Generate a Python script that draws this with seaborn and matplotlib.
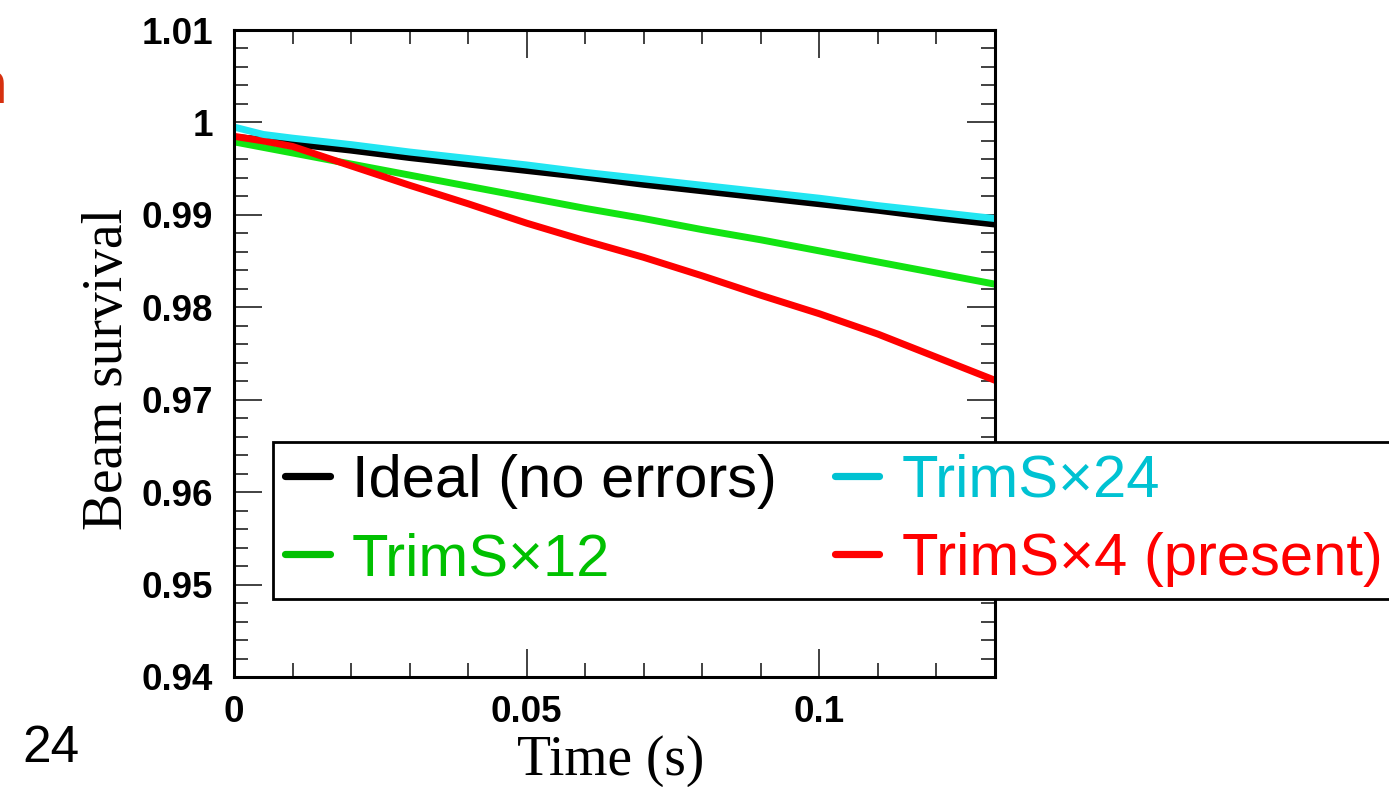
import numpy as np
import pandas as pd
import matplotlib
matplotlib.use("Agg")
import matplotlib.pyplot as plt
from matplotlib.lines import Line2D
from matplotlib.ticker import MultipleLocator
import seaborn as sns

# Beam survival vs. time for different trim-sextupole configurations
time_s = [0.0, 0.005, 0.01, 0.02, 0.03, 0.04, 0.05, 0.06, 0.07, 0.08, 0.09, 0.10, 0.11, 0.12, 0.13]
ideal = [0.9984, 0.9981, 0.9977, 0.9970, 0.9962, 0.9955, 0.9948, 0.9941, 0.9933, 0.9926, 0.9919, 0.9912, 0.9905, 0.9897, 0.9890]
trim24 = [0.9995, 0.9987, 0.9983, 0.9976, 0.9968, 0.9961, 0.9954, 0.9946, 0.9939, 0.9932, 0.9925, 0.9918, 0.9910, 0.9903, 0.9896]
trim12 = [0.9979, 0.9973, 0.9967, 0.9955, 0.9943, 0.9931, 0.9919, 0.9907, 0.9896, 0.9884, 0.9873, 0.9861, 0.9849, 0.9837, 0.9825]
trim4 = [0.9985, 0.9980, 0.9974, 0.9953, 0.9932, 0.9912, 0.9891, 0.9872, 0.9854, 0.9834, 0.9813, 0.9793, 0.9771, 0.9746, 0.9721]

series_names = ["Ideal (no errors)", "TrimS\u00d712", "TrimS\u00d724", "TrimS\u00d74 (present)"]
series_values = [ideal, trim12, trim24, trim4]
line_colors = ["#000000", "#12E412", "#22E6F2", "#FF0000"]
legend_colors = ["#000000", "#00C000", "#00C2D2", "#FF0000"]
draw_order = [0, 1, 3, 2]  # cyan drawn last so it sits on top of black

y_ticks = [0.94, 0.95, 0.96, 0.97, 0.98, 0.99, 1.00, 1.01]
y_tick_labels = ["0.94", "0.95", "0.96", "0.97", "0.98", "0.99", "1", "1.01"]
x_ticks = [0.0, 0.05, 0.1]
x_tick_labels = ["0", "0.05", "0.1"]

df = pd.concat(
    [pd.DataFrame({"Time (s)": time_s, "Beam survival": series_values[i], "case": series_names[i]})
     for i in draw_order],
    ignore_index=True,
)

sns.set_theme(style="ticks")
W, H = 1389, 787
fig = plt.figure(figsize=(W / 100, H / 100), dpi=100)
fig.patch.set_facecolor("white")
ax = fig.add_axes([234 / W, 1 - 677 / H, 761 / W, 647 / H])

sns.lineplot(
    data=df, x="Time (s)", y="Beam survival", hue="case",
    hue_order=[series_names[i] for i in draw_order],
    palette=[line_colors[i] for i in draw_order],
    linewidth=5.0, legend=False, ax=ax, sort=False,
)

ax.set_xlim(0, 0.13)
ax.set_ylim(0.94, 1.01)
ax.set_xticks(x_ticks)
ax.set_xticklabels(x_tick_labels)
ax.set_yticks(y_ticks)
ax.set_yticklabels(y_tick_labels)
ax.xaxis.set_minor_locator(MultipleLocator(0.01))
ax.yaxis.set_minor_locator(MultipleLocator(0.002))

for lab in ax.get_xticklabels() + ax.get_yticklabels():
    lab.set_fontfamily("Liberation Sans")
    lab.set_fontweight("bold")
    lab.set_fontsize(26.5)
    lab.set_color("black")

ax.tick_params(which="both", direction="in", top=True, right=True, color="#333333")
ax.tick_params(which="major", length=20, width=1.3)
ax.tick_params(which="minor", length=10, width=1.3)
ax.tick_params(axis="y", which="major", pad=15)
ax.tick_params(axis="x", which="major", pad=13)
for s in ax.spines.values():
    s.set_linewidth(2.2)
    s.set_color("black")

label_font = dict(family="Liberation Serif", size=40, color="black")
ax.set_xlabel("Time (s)", **label_font)
ax.set_ylabel("Beam survival", **label_font)
ax.xaxis.set_label_coords(0.495, -0.089)
ax.yaxis.set_label_coords(-0.132, 0.476)

handles = [Line2D([], [], color=c, linewidth=5.2) for c in legend_colors]
leg = ax.legend(
    handles, series_names, ncol=2, loc="upper left",
    bbox_to_anchor=(273 / W, 1 - 442 / H), bbox_transform=fig.transFigure,
    borderaxespad=0, frameon=True, fancybox=False, framealpha=1,
    prop={"family": "Liberation Sans", "size": 43},
    handlelength=0.75, handletextpad=0.37, columnspacing=0.97,
    labelspacing=0.39, borderpad=0.2,
)
leg.get_frame().set_edgecolor("black")
leg.get_frame().set_linewidth(2.0)
for txt, c in zip(leg.get_texts(), legend_colors):
    txt.set_color(c)
leg.set_zorder(10)

# slide furniture
fig.text(22 / W, 1 - 762 / H, "24", family="Liberation Sans", size=37, color="black",
         ha="left", va="baseline")
fig.text(-29 / W, 1 - 103 / H, "n", family="Liberation Sans", weight="bold", size=43,
         color="#D6300F", ha="left", va="baseline")

fig.savefig("out.png", dpi=100, facecolor="white")
